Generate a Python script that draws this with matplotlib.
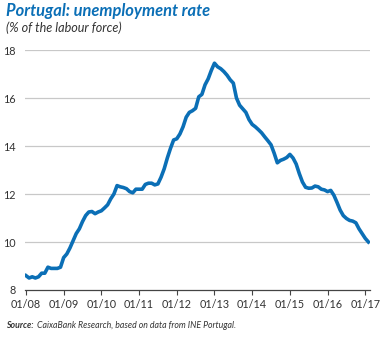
import matplotlib
matplotlib.use("Agg")
import matplotlib.pyplot as plt
import numpy as np

# monthly unemployment rate, Jan 2008 - Feb 2017 (% of labour force)
rate_2008 = [8.6, 8.5, 8.55, 8.5, 8.55, 8.7, 8.7, 8.95, 8.9, 8.9, 8.9, 8.95]
rate_2009 = [9.35, 9.5, 9.75, 10.05, 10.35, 10.55, 10.85, 11.1, 11.25, 11.27, 11.18, 11.25]
rate_2010 = [11.3, 11.42, 11.55, 11.8, 12.0, 12.35, 12.3, 12.27, 12.22, 12.1, 12.05, 12.2]
rate_2011 = [12.2, 12.2, 12.4, 12.45, 12.45, 12.38, 12.42, 12.7, 13.05, 13.5, 13.9, 14.25]
rate_2012 = [14.3, 14.5, 14.8, 15.2, 15.4, 15.47, 15.57, 16.05, 16.15, 16.55, 16.8, 17.15]
rate_2013 = [17.45, 17.3, 17.22, 17.1, 16.95, 16.76, 16.62, 16.0, 15.7, 15.55, 15.4, 15.1]
rate_2014 = [14.9, 14.8, 14.68, 14.55, 14.38, 14.22, 14.05, 13.7, 13.3, 13.4, 13.45, 13.52]
rate_2015 = [13.65, 13.5, 13.25, 12.85, 12.5, 12.28, 12.24, 12.25, 12.33, 12.3, 12.2, 12.17]
rate_2016 = [12.1, 12.15, 11.95, 11.65, 11.33, 11.1, 10.98, 10.9, 10.87, 10.8, 10.55, 10.35]
rate_2017 = [10.15, 10.0]

rate = (rate_2008 + rate_2009 + rate_2010 + rate_2011 + rate_2012
        + rate_2013 + rate_2014 + rate_2015 + rate_2016 + rate_2017)
months = np.arange(len(rate))

tick_labels = ["01/08", "01/09", "01/10", "01/11", "01/12",
               "01/13", "01/14", "01/15", "01/16", "01/17"]
y_ticks = [8, 10, 12, 14, 16, 18]

plt.rcParams["font.family"] = ["Lato", "DejaVu Sans"]

blue = "#0b6fb6"
text_grey = "#333333"

fig = plt.figure(figsize=(3.89, 3.38), dpi=100)
ax = fig.add_axes([25 / 389, 1 - 290 / 338, 345 / 389, 240 / 338])

ax.plot(months, rate, color=blue, lw=2.6, solid_joinstyle="round", zorder=3)

ax.set_xlim(-0.3, 109.5)
ax.set_ylim(8, 18)
ax.set_xticks(np.arange(0, 12 * len(tick_labels), 12))
ax.set_xticklabels(tick_labels)
ax.set_yticks(y_ticks)

for v in y_ticks[1:]:
    ax.axhline(v, color="#c8c8c8", lw=0.9, zorder=1)

for side in ["top", "right", "left"]:
    ax.spines[side].set_visible(False)
ax.spines["bottom"].set_color("#444444")
ax.spines["bottom"].set_linewidth(0.9)

ax.tick_params(axis="x", length=3.5, width=0.8, color="#444444",
               labelsize=7.8, labelcolor=text_grey, pad=3)
ax.tick_params(axis="y", length=0, labelsize=7.8, labelcolor=text_grey, pad=7)

fig.text(6 / 389, 1 - 11 / 338, "Portugal: unemployment rate", color=blue,
         fontsize=11.9, fontweight="bold", fontstyle="italic", va="center")
fig.text(6 / 389, 1 - 28 / 338, "(% of the labour force)", color=text_grey,
         fontsize=9.1, fontstyle="italic", va="center")

fig.text(6 / 389, 1 - 325 / 338, "Source:", color=text_grey, fontsize=6.3,
         fontweight="bold", fontstyle="italic", va="center")
fig.text(37 / 389, 1 - 325 / 338,
         "CaixaBank Research, based on data from INE Portugal.",
         color=text_grey, fontsize=6.3, fontstyle="italic", va="center")

fig.savefig("out.png", dpi=100)
plt.close(fig)
